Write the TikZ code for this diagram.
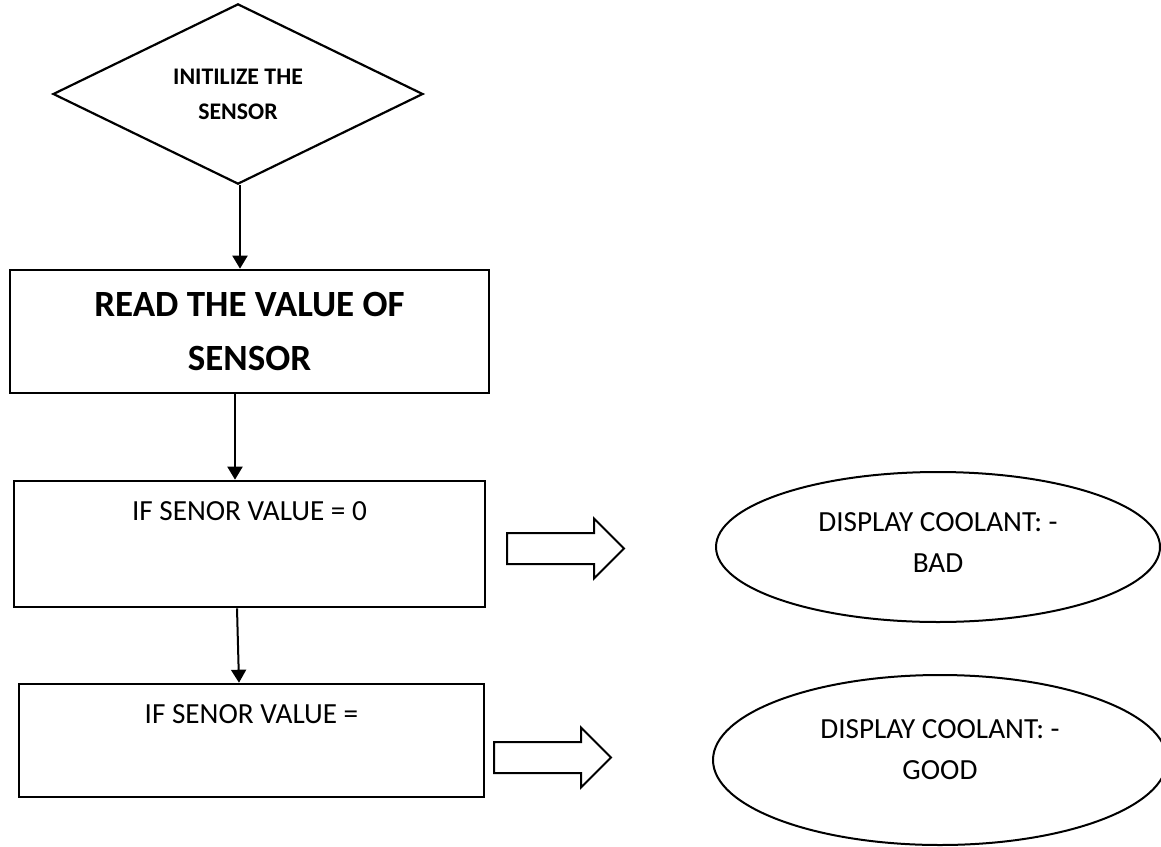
\documentclass[tikz,border=0pt]{standalone}
\usepackage{fontspec}
\setmainfont{Carlito}
\usetikzlibrary{arrows.meta,shapes.geometric,shapes.arrows}

\begin{document}
\begin{tikzpicture}[x=0.5pt,y=-0.5pt,>={Triangle[width=7.5pt,length=6.5pt]},
    box/.style={draw,line width=1.3pt,inner sep=0pt},
    flow/.style={->,line width=1pt},
    boxtext/.style={font=\fontsize{14.6}{17}\selectfont,anchor=north,yshift=-10.5pt,inner sep=0pt},
    outcome/.style={draw,ellipse,line width=1pt,inner sep=0pt},
    outtext/.style={align=center,inner sep=0pt,font=\fontsize{14.6}{20.5}\selectfont},
    fatarrow/.style={draw,single arrow,line width=1pt,inner xsep=0pt,inner ysep=7.25pt,
      single arrow head extend=7.25pt,minimum height=58.5pt,anchor=tail}]
    % page
    \useasboundingbox (0,0) rectangle (1161,846);
    \clip (0,0) rectangle (1161,846);

    % start
    \node[draw,diamond,line width=1.1pt,inner sep=0pt,minimum width=185pt,minimum height=82pt,
      align=center,font=\bfseries\fontsize{11.9}{17.5}\selectfont] (init) at (238,94) {INITILIZE THE\\SENSOR};

    % read
    \node[box,minimum width=239.5pt,minimum height=61.5pt,align=center,
      font=\bfseries\fontsize{18.5}{27}\selectfont] (read) at (249.5,331.5) {READ THE VALUE OF\\SENSOR};

    % tests
    \node[box,minimum width=235.5pt,minimum height=63pt,
      label={[boxtext]north:IF SENOR VALUE = 0}] (ifzero) at (249.5,544) {};
    \node[box,minimum width=232.5pt,minimum height=56.5pt,
      label={[boxtext]north:IF SENOR VALUE =}] (ifone) at (251.5,740.5) {};

    % outputs
    \node[fatarrow] (tobad) at (506,548.5) {};
    \node[outcome,minimum width=222pt,minimum height=75pt,
      label={[outtext,yshift=2pt]center:{DISPLAY COOLANT: -\\BAD}}] (bad) at (938,547) {};
    \node[fatarrow] (togood) at (493,757.5) {};
    \node[outcome,minimum width=227pt,minimum height=85pt,
      label={[outtext,yshift=5pt]center:{DISPLAY COOLANT: -\\GOOD}}] (good) at (940,760) {};

    % flow
    \draw[flow] ([xshift=1pt]init.south) -- ([xshift=-4.75pt]read.north);
    \draw[flow] ([xshift=-7.25pt]read.south) -- ([xshift=-7.25pt]ifzero.north);
    \draw[flow] ([xshift=-6.25pt]ifzero.south) -- ([xshift=-6.25pt]ifone.north);
  \end{tikzpicture}
\end{document}
